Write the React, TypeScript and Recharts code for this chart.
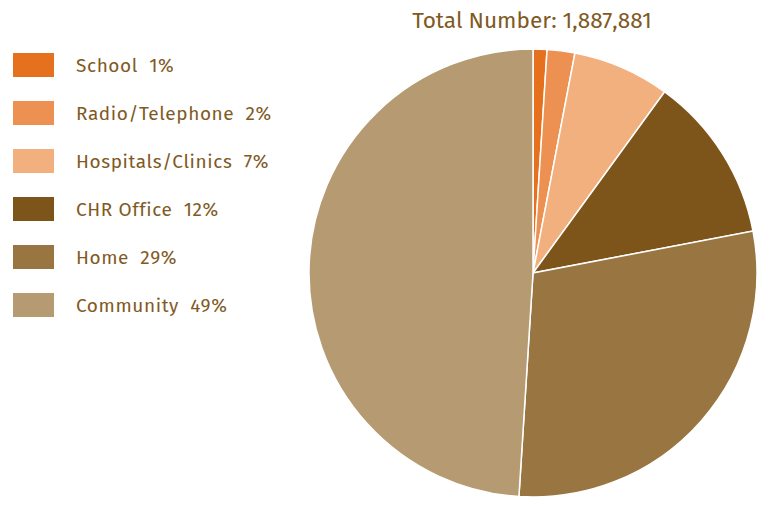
import React from 'react';
import { PieChart, Pie, Cell, Legend } from 'recharts';

const categories = ['School', 'Radio/Telephone', 'Hospitals/Clinics', 'CHR Office', 'Home', 'Community'];
const percents = [1, 2, 7, 12, 29, 49];
const colors = ['#e5711f', '#ec9152', '#f3b07f', '#7d5419', '#997542', '#b59a72'];
const totalLabel = 'Total Number: 1,887,881';

const data = categories.map((name, i) => ({ name, value: percents[i] }));

const TEXT = '#7f5a24';
const FONT = '"Fira Sans", "Open Sans", "Noto Sans", sans-serif';

const renderLegend = () => (
  <div style={{ position: 'relative', width: 300, height: 300 }}>
    {data.map((d, i) => (
      <div key={d.name} style={{ position: 'absolute', left: 13, top: 53 + i * 48, height: 24, display: 'flex', alignItems: 'center' }}>
        <div style={{ width: 41, height: 24, background: colors[i] }} />
        <span style={{ marginLeft: 22, fontFamily: FONT, fontSize: 19, letterSpacing: 0.6, color: TEXT, whiteSpace: 'pre' }}>
          {`${d.name}  ${d.value}%`}
        </span>
      </div>
    ))}
  </div>
);

export default function App() {
  return (
    <div style={{ position: 'absolute', left: 0, top: 0, width: 760, height: 508, background: '#fff' }}>
      <PieChart width={760} height={508} margin={{ top: 0, right: 0, bottom: 0, left: 0 }}>
        <text x={532} y={28} textAnchor="middle" fontFamily={FONT} fontSize={22.6} fill={TEXT}>{totalLabel}</text>
        <Pie
          data={data}
          dataKey="value"
          nameKey="name"
          cx={533}
          cy={273}
          outerRadius={224}
          startAngle={90}
          endAngle={-270}
          stroke="#ffffff"
          strokeWidth={1.5}
          isAnimationActive={false}
        >
          {data.map((d, i) => (
            <Cell key={d.name} fill={colors[i]} />
          ))}
        </Pie>
        <Legend content={renderLegend} wrapperStyle={{ left: 0, top: 0, width: 300, height: 300 }} />
      </PieChart>
    </div>
  );
}
